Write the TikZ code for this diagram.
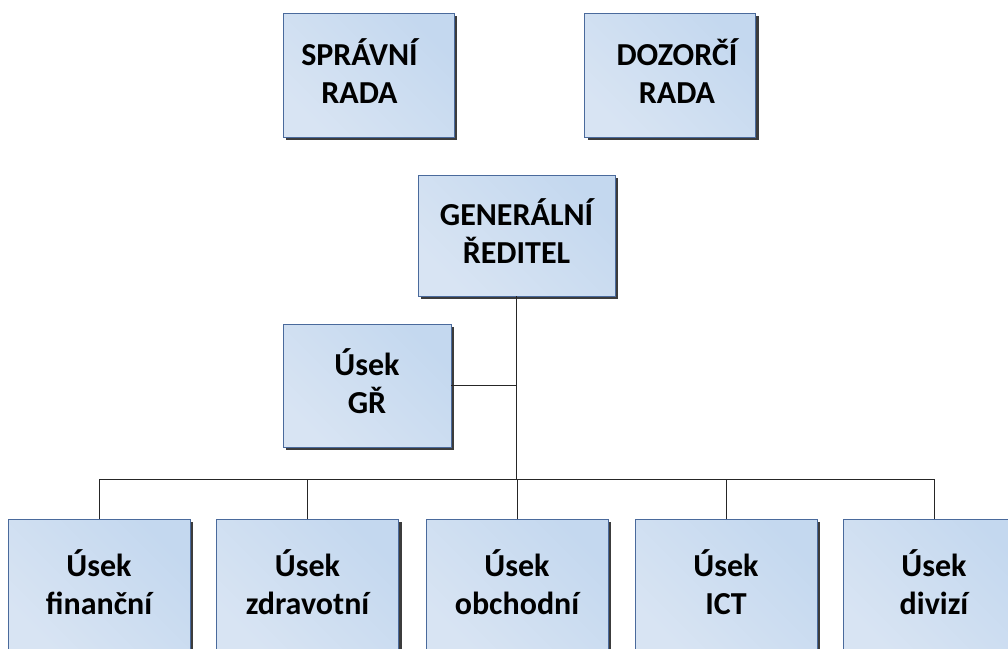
\documentclass[tikz,border=0pt]{standalone}
\usepackage{fontspec}
\setmainfont{Carlito}
\usepackage{tikz}
\usetikzlibrary{positioning,calc,shadows}
\definecolor{boxlight}{HTML}{D8E4F3}
\definecolor{boxdark}{HTML}{C4D8EF}
\definecolor{boxedge}{HTML}{4A6A9C}
\definecolor{shadowgray}{HTML}{3C3C3C}
\tikzset{
    orgbox/.style={rectangle, draw=boxedge, line width=0.9pt, left color=boxlight, right color=boxdark, shading angle=135,
        drop shadow={shadow xshift=3pt, shadow yshift=-3pt, fill=shadowgray, opacity=1},
        align=center, font=\fontsize{32}{38}\selectfont\bfseries, inner sep=0pt, text depth=8pt},
    topbox/.style={orgbox, minimum width=171pt, minimum height=124pt},
    unitbox/.style={orgbox, minimum width=182pt, minimum height=134pt},
    link/.style={draw, black!85, line width=1pt}
}

\begin{document}
\begin{tikzpicture}[x=1pt, y=-1pt]
    \clip (0,0) rectangle (1008,648);
    % board and director
    \node [topbox] (spravni) at (368.5,75) {\hspace*{-18pt}SPRÁVNÍ\\\hspace*{-18pt}RADA};
    \node [topbox] (dozorci) at (670,75) {\hspace*{14pt}DOZORČÍ\\\hspace*{14pt}RADA};
    \node [topbox, minimum width=197pt, minimum height=121pt] (generalni) at (516.5,235.5) {GENERÁLNÍ\\ŘEDITEL};
    \node [topbox, minimum width=168pt, minimum height=123pt] (usekgr) at (367,385.5) {Úsek\\GŘ};
    % units
    \node [unitbox] (financni) at (99,586) {Úsek\\finanční};
    \node [unitbox] (zdravotni) at (307.5,586) {Úsek\\zdravotní};
    \node [unitbox] (obchodni) at (517,586) {Úsek\\obchodní};
    \node [unitbox] (ict) at (726,586) {Úsek\\ICT};
    \node [unitbox] (divizi) at (934,586) {Úsek\\divizí};
    \coordinate (bus) at (0,479);

    \path [link] (generalni.south) -- (generalni.south |- bus);
    \path [link] (usekgr.east) -- (usekgr.east -| generalni.south);
    \path [link] (financni.north |- bus) -- (divizi.north |- bus);
    \foreach \u in {financni,zdravotni,obchodni,ict,divizi}
        \path [link] (\u.north) -- (\u.north |- bus);
\end{tikzpicture}
\end{document}
